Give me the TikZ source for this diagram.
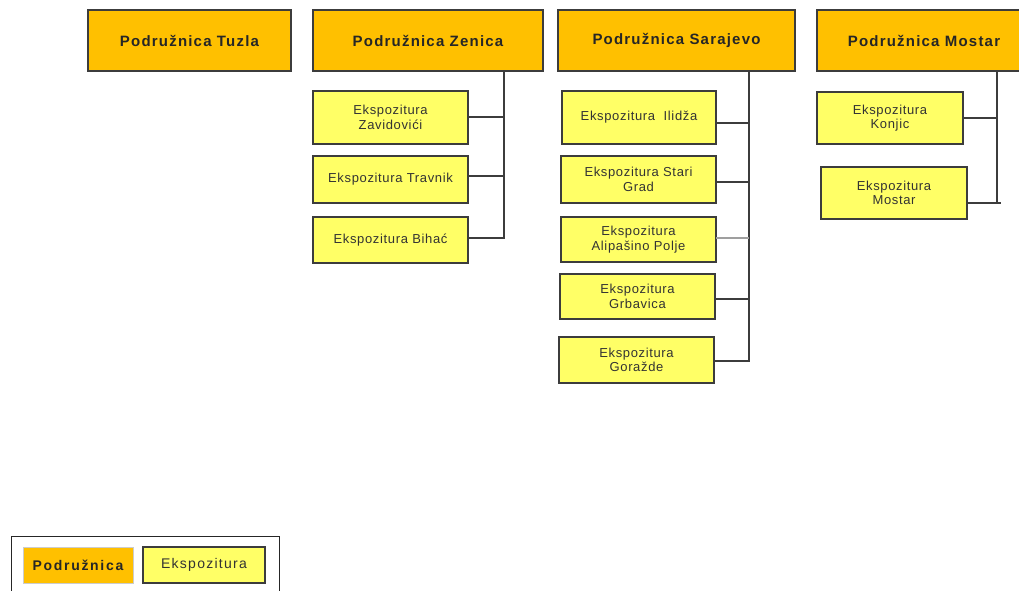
\documentclass[tikz,border=0pt]{standalone}
\usepackage{fontspec}
\setmainfont{Liberation Sans}
\newfontfamily\headfont[LetterSpace=8]{Liberation Sans}
\newfontfamily\subfont[LetterSpace=5]{Liberation Sans}
\newfontfamily\legpfont[LetterSpace=12]{Liberation Sans}
\newfontfamily\legefont[LetterSpace=9]{Liberation Sans}
\definecolor{podr}{HTML}{FFC000}
\definecolor{eksp}{HTML}{FFFF66}
\definecolor{edgecol}{HTML}{3C3C3C}
\tikzset{
  podbox/.style={draw=edgecol, line width=1.4pt, fill=podr, inner sep=0pt, outer sep=0pt,
    font=\headfont\bfseries\fontsize{15}{17}\selectfont, text=black!85},
  eksbox/.style={draw=edgecol, line width=1.4pt, fill=eksp, inner sep=0pt, outer sep=0pt, align=center,
    font=\subfont\fontsize{13}{14.5}\selectfont, text=black!80},
  conn/.style={draw=edgecol, line width=1.4pt},
  lightconn/.style={draw=gray!75, line width=1.3pt}
}
\begin{document}
\begin{tikzpicture}[x=1pt,y=-1pt]
\useasboundingbox (0,0) rectangle (1019,590);
\fill[white] (0,0) rectangle (1019,590);

% Podruznice
\node[podbox, minimum width=203, minimum height=61] (tuz) at (189.5,40.5) {Podružnica Tuzla};
\node[podbox, minimum width=230, minimum height=61] (zen) at (428,40.5) {Podružnica Zenica};
\node[podbox, minimum width=237, minimum height=61] (sar) at (676.5,40.5) {Podružnica Sarajevo};
\node[podbox, minimum width=214, minimum height=61] (mos) at (924,40.5) {Podružnica Mostar};

% Zenica ekspoziture
\node[eksbox, minimum width=155, minimum height=53] (zav) at (390.5,117.5) {Ekspozitura\\Zavidovići};
\node[eksbox, minimum width=155, minimum height=47] (trav) at (390.5,179.5) {Ekspozitura Travnik};
\node[eksbox, minimum width=155, minimum height=46] (bih) at (390.5,240) {Ekspozitura Bihać};

% Sarajevo ekspoziture
\node[eksbox, minimum width=154, minimum height=53] (ili) at (639,117.5) {Ekspozitura\ \ Ilidža};
\node[eksbox, minimum width=155, minimum height=47] (sta) at (638.5,179.5) {Ekspozitura Stari\\Grad};
\node[eksbox, minimum width=155, minimum height=45] (ali) at (638.5,239.5) {Ekspozitura\\Alipašino Polje};
\node[eksbox, minimum width=155, minimum height=45] (grb) at (637.5,296.5) {Ekspozitura\\Grbavica};
\node[eksbox, minimum width=155, minimum height=46] (gor) at (636.5,360) {Ekspozitura\\Goražde};

% Mostar ekspoziture
\node[eksbox, minimum width=146, minimum height=52] (kon) at (890,118) {Ekspozitura\\Konjic};
\node[eksbox, minimum width=146, minimum height=52] (mse) at (894,193) {Ekspozitura\\Mostar};

% connector end points
\coordinate (zt) at (504,71);
\coordinate (st) at (749,71);
\coordinate (mt) at (997,71);
\coordinate (zavE) at ([yshift=0.5pt]zav.east);
\coordinate (travE) at ([yshift=3.5pt]trav.east);
\coordinate (bihE) at ([yshift=2pt]bih.east);
\coordinate (iliE) at ([yshift=-5.5pt]ili.east);
\coordinate (staE) at ([yshift=-2.5pt]sta.east);
\coordinate (aliE) at ([yshift=1.5pt]ali.east);
\coordinate (grbE) at ([yshift=-2.5pt]grb.east);
\coordinate (gorE) at ([yshift=-1pt]gor.east);
\coordinate (konE) at (kon.east);
\coordinate (mseE) at ([yshift=-10pt]mse.east);

% Zenica connectors
\draw[conn] (zt) -- (zt |- bihE) -- (bihE);
\draw[conn] (zavE) -- (zavE -| zt);
\draw[conn] (travE) -- (travE -| zt);

% Sarajevo connectors
\draw[conn] (st) -- (st |- gorE) -- (gorE);
\draw[conn] (iliE) -- (iliE -| st);
\draw[conn] (staE) -- (staE -| st);
\draw[lightconn] (aliE) -- (aliE -| st);
\draw[conn] (grbE) -- (grbE -| st);

% Mostar connectors
\draw[conn] (mt) -- (mt |- mseE);
\draw[conn] (konE) -- (konE -| mt);
\draw[conn] (mseE) -- ([xshift=4pt]mseE -| mt);

% Legend
\node[draw=black!85, line width=1pt, minimum width=268, minimum height=70, inner sep=0pt] (leg) at (145,571) {};
\node[fill=podr, draw=gray!40, line width=0.8pt, minimum width=110, minimum height=36, inner sep=0pt,
  font=\legpfont\bfseries\fontsize{14}{16}\selectfont, text=black!85] (lpod) at (78,565) {Podružnica};
\node[eksbox, minimum width=122, minimum height=36, font=\legefont\fontsize{14}{16}\selectfont] (leks) at (204,565) {Ekspozitura};
\end{tikzpicture}
\end{document}
